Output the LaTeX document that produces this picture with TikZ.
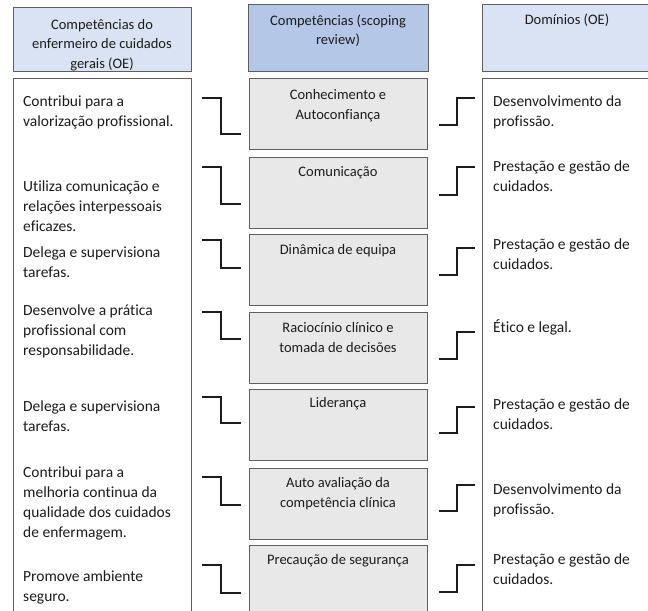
\documentclass[tikz,border=0pt]{standalone}
\usepackage{fontspec}
\setmainfont[Ligatures=NoCommon]{Carlito}
\definecolor{hdrA}{HTML}{DAE3F3}
\definecolor{hdrB}{HTML}{B4C7E7}
\definecolor{midgray}{HTML}{E8E8E8}
\definecolor{edge}{HTML}{5E5E5E}
\definecolor{ink}{HTML}{1C1C1C}
\newcommand\hstrut{\rule{0pt}{14bp}}
\begin{document}
\begin{tikzpicture}[x=1bp,y=-1bp,
  box/.style={draw=edge,line width=1.4bp,inner sep=0,anchor=north west},
  conn/.style={draw=ink,line width=1.9bp},
  body/.style={font=\fontsize{15.5bp}{20bp}\selectfont,text=ink,inner sep=0,anchor=north west,align=left},
  mid/.style={font=\fontsize{14.5bp}{20bp}\selectfont,text=ink,inner sep=0,anchor=north,align=center},
  hdr/.style={font=\fontsize{14.5bp}{19.5bp}\selectfont,text=ink,inner sep=0,anchor=north,align=center}]
\useasboundingbox (0,0) rectangle (648,611);
\clip (0,0) rectangle (648,611);
% headers
\node[box,fill=hdrA,minimum width=178bp,minimum height=64bp] (hL) at (13,7) {};
\node[box,fill=hdrB,minimum width=180bp,minimum height=67bp] (hM) at (248,4) {};
\node[box,fill=hdrA,minimum width=170bp,minimum height=67bp] (hR) at (482,4) {};
\node[hdr] (hLt) at (102,15) {\hstrut Competências do\\enfermeiro de cuidados\\gerais (OE)};
\node[hdr] (hMt) at (338,11) {\hstrut Competências (scoping\\review)};
\node[hdr] (hRt) at (567,10) {\hstrut Domínios (OE)};
% big boxes
\node[box,fill=white,minimum width=178bp,minimum height=545bp] (bL) at (13,78) {};
\node[box,fill=white,minimum width=170bp,minimum height=545bp] (bR) at (482,78) {};
% middle boxes
\foreach \t [count=\i] in {78,157,234,312,389,468,545}{
  \node[box,fill=midgray,minimum width=178bp,minimum height=71bp] (m\i) at (249,\t) {};
}
% middle texts
\node[mid] (mt1) at (338,85) {\hstrut Conhecimento e\\Autoconfiança};
\node[mid] (mt2) at (338,162) {\hstrut Comunicação};
\node[mid] (mt3) at (338,240) {\hstrut Dinâmica de equipa};
\node[mid] (mt4) at (338,318) {\hstrut Raciocínio clínico e\\tomada de decisões};
\node[mid] (mt5) at (338,393) {\hstrut Liderança};
\node[mid] (mt6) at (338,473) {\hstrut Auto avaliação da\\competência clínica};
\node[mid] (mt7) at (338,550) {\hstrut Precaução de segurança};
% left texts
\node[body] (lt1) at (23,92) {\hstrut Contribui para a\\valorização profissional.};
\node[body] (lt2) at (23,177) {\hstrut Utiliza comunicação e\\relações interpessoais\\eficazes.};
\node[body] (lt3) at (23,243) {\hstrut Delega e supervisiona\\tarefas.};
\node[body] (lt4) at (23,301) {\hstrut Desenvolve a prática\\profissional com\\responsabilidade.};
\node[body] (lt5) at (23,397) {\hstrut Delega e supervisiona\\tarefas.};
\node[body] (lt6) at (23,463) {\hstrut Contribui para a\\melhoria continua da\\qualidade dos cuidados\\de enfermagem.};
\node[body] (lt7) at (23,567) {\hstrut Promove ambiente\\seguro.};
% right texts
\node[body] (rt1) at (493,92) {\hstrut Desenvolvimento da\\profissão.};
\node[body] (rt2) at (493,157) {\hstrut Prestação e gestão de\\cuidados.};
\node[body] (rt3) at (493,235) {\hstrut Prestação e gestão de\\cuidados.};
\node[body] (rt4) at (493,318) {\hstrut Ético e legal.};
\node[body] (rt5) at (493,395) {\hstrut Prestação e gestão de\\cuidados.};
\node[body] (rt6) at (493,480) {\hstrut Desenvolvimento da\\profissão.};
\node[body] (rt7) at (493,550) {\hstrut Prestação e gestão de\\cuidados.};
% left connectors
\foreach \a/\b [count=\i] in {98/134,167/204,240/268,312/339,397/423,477/505,565/593}{
  \coordinate (la\i) at (202,\a);
  \coordinate (lb\i) at (241,\b);
  \draw[conn] (la\i) -- ++(19,0) |- (lb\i);
}
% right connectors
\foreach \a/\b [count=\i] in {125/98,195/167,275/248,359/332,433/407,511/485,592/565}{
  \coordinate (ra\i) at (439,\a);
  \coordinate (rb\i) at (475,\b);
  \draw[conn] (ra\i) -- ++(18,0) |- (rb\i);
}
\end{tikzpicture}
\end{document}
